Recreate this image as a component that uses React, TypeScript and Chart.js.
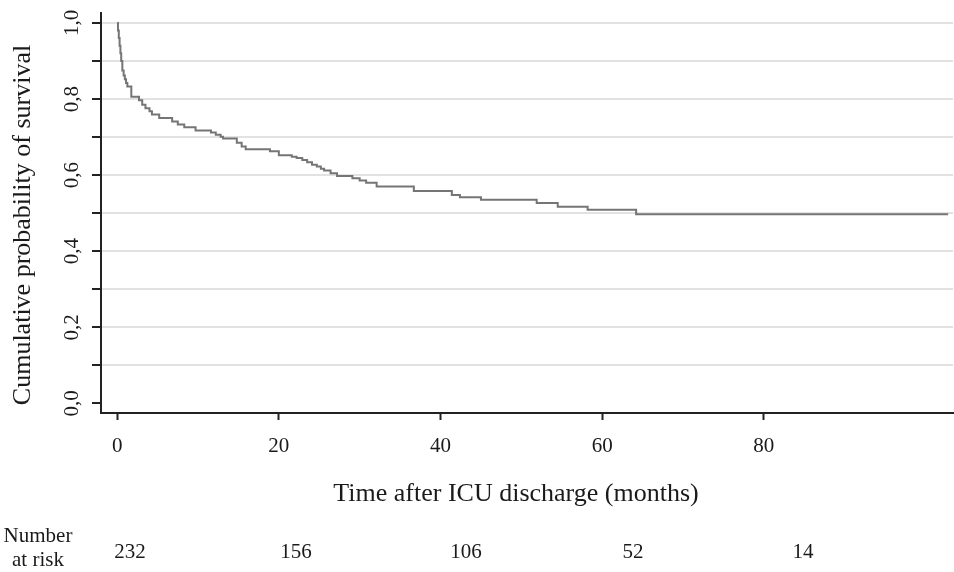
import React, { useEffect, useRef } from "react";
import { Chart, registerables } from "chart.js";

Chart.register(...registerables);

// Kaplan-Meier step data (months, survival after the event)
const eventTimes: number[] = [
  0, 0.1, 0.2, 0.3, 0.4, 0.5, 0.64, 0.8, 0.95, 1.1, 1.26, 1.75, 2.7, 3.1, 3.5, 4.0, 4.3, 5.2,
  6.8, 7.5, 8.3, 9.7, 11.6, 12.2, 12.8, 13.1, 14.8, 15.4, 15.9, 18.9, 20.0, 21.6, 22.2,
  22.9, 23.5, 24.1, 24.7, 25.2, 25.6, 26.4, 27.2, 29.1, 30.0, 30.8, 32.1, 36.7, 41.4,
  42.4, 45.0, 51.9, 54.5, 58.2, 64.2, 102.8,
];
const survival: number[] = [
  1.0, 0.98, 0.96, 0.94, 0.92, 0.9, 0.875, 0.862, 0.852, 0.842, 0.833, 0.806, 0.797, 0.785,
  0.776, 0.768, 0.759, 0.75, 0.741, 0.733, 0.726, 0.717, 0.712, 0.706, 0.701, 0.696, 0.685,
  0.675, 0.668, 0.663, 0.652, 0.648, 0.645, 0.64, 0.634, 0.627, 0.623, 0.617, 0.612, 0.605,
  0.598, 0.592, 0.586, 0.58, 0.57, 0.558, 0.548, 0.542, 0.535, 0.527, 0.517, 0.509, 0.497,
  0.497,
];
const xTickValues: number[] = [0, 20, 40, 60, 80];
const yTickValues: number[] = [0, 0.1, 0.2, 0.3, 0.4, 0.5, 0.6, 0.7, 0.8, 0.9, 1.0];
const yLabelValues: number[] = [0, 0.2, 0.4, 0.6, 0.8, 1.0];
const numberAtRisk: number[] = [232, 156, 106, 52, 14];

const yTitle = "Cumulative probability of survival";
const xTitle = "Time after ICU discharge (months)";

const FONT = "'Liberation Serif', 'Times New Roman', serif";
const TEXT = "#1a1a1a";

export default function App() {
  const ref = useRef<HTMLCanvasElement | null>(null);

  useEffect(() => {
    if (!ref.current) return;
    const textPlugin = {
      id: "kmText",
      afterDraw(chart: any) {
        const ctx = chart.ctx as CanvasRenderingContext2D;
        const xs = chart.scales.x;
        const ys = chart.scales.y;
        const area = chart.chartArea;
        ctx.save();
        ctx.fillStyle = TEXT;
        ctx.textAlign = "center";
        ctx.textBaseline = "middle";
        // y tick labels (rotated)
        ctx.font = `21px ${FONT}`;
        yLabelValues.forEach((v) => {
          const py = ys.getPixelForValue(v);
          ctx.save();
          ctx.translate(72, py);
          ctx.rotate(-Math.PI / 2);
          ctx.fillText(v.toFixed(1).replace(".", ","), 0, 0);
          ctx.restore();
        });
        // y title
        ctx.font = `26px ${FONT}`;
        ctx.save();
        ctx.translate(23, (area.top + area.bottom) / 2 + 12);
        ctx.rotate(-Math.PI / 2);
        ctx.fillText(yTitle, 0, 0);
        ctx.restore();
        // x tick labels
        ctx.font = `21px ${FONT}`;
        xTickValues.forEach((v) => {
          ctx.fillText(String(v), xs.getPixelForValue(v), 446);
        });
        // x title
        ctx.font = `26px ${FONT}`;
        ctx.fillText(xTitle, (area.left + area.right) / 2 - 11, 494);
        // number at risk
        ctx.font = `21px ${FONT}`;
        ctx.fillText("Number", 38, 536);
        ctx.fillText("at risk", 38, 560);
        const riskX = [130, 296, 466, 633, 803];
        numberAtRisk.forEach((n, i) => {
          ctx.fillText(String(n), riskX[i], 552);
        });
        ctx.restore();
      },
    };

    const chart = new Chart(ref.current, {
      type: "line",
      data: {
        datasets: [
          {
            data: eventTimes.map((t, i) => ({ x: t, y: survival[i] })),
            stepped: true,
            borderColor: "#757575",
            borderWidth: 2,
            pointRadius: 0,
            fill: false,
          },
        ],
      },
      options: {
        animation: false,
        responsive: true,
        maintainAspectRatio: false,
        layout: { padding: { top: 13, right: 1, left: 0, bottom: 0 } },
        plugins: { legend: { display: false }, tooltip: { enabled: false } },
        scales: {
          x: {
            type: "linear",
            min: -2,
            max: 103.4,
            afterBuildTicks: (s: any) => {
              s.ticks = xTickValues.map((v) => ({ value: v }));
            },
            afterFit: (s: any) => {
              s.height = 572 - 413;
            },
            ticks: { display: false },
            grid: {
              display: true,
              drawOnChartArea: false,
              drawTicks: true,
              tickLength: 7,
              tickWidth: 2,
              tickColor: "#222",
            },
            border: { display: true, color: "#222", width: 2 },
          },
          y: {
            type: "linear",
            min: -0.025,
            max: 1.026,
            afterBuildTicks: (s: any) => {
              s.ticks = yTickValues.map((v) => ({ value: v }));
            },
            afterFit: (s: any) => {
              s.width = 101;
            },
            ticks: { display: false },
            grid: {
              display: true,
              drawOnChartArea: true,
              drawTicks: true,
              tickLength: 9,
              tickWidth: 2,
              tickColor: "#222",
              lineWidth: 2,
              color: (c: any) => (c.tick && c.tick.value === 0 ? "rgba(0,0,0,0)" : "#e2e2e2"),
            },
            border: { display: true, color: "#222", width: 2 },
          },
        },
      },
      plugins: [textPlugin],
    });
    return () => chart.destroy();
  }, []);

  return (
    <div style={{ position: "absolute", left: 0, top: 0, width: 954, height: 572, background: "#fff" }}>
      <canvas ref={ref} />
    </div>
  );
}
